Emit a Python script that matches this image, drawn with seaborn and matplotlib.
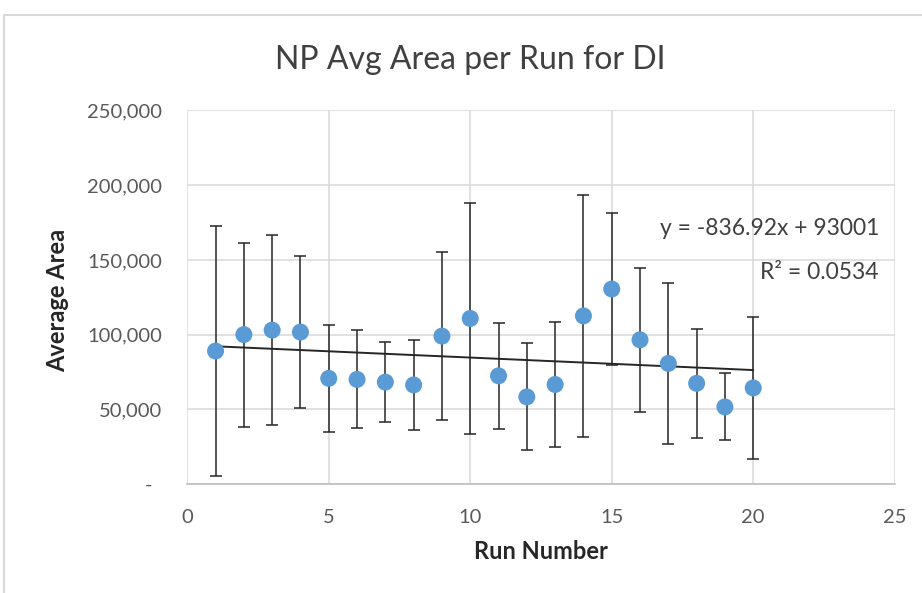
import numpy as np
import matplotlib
matplotlib.use("Agg")
import matplotlib.pyplot as plt
import matplotlib.patches as mpatches
from matplotlib.ticker import FuncFormatter
import seaborn as sns

# Data
runs = np.arange(1, 21)
avg_area = [89000, 100000, 103000, 101700, 70700, 70000, 68200, 66300, 99000, 110800,
            72400, 58300, 66600, 112500, 130500, 96500, 80700, 67400, 51600, 64300]
std_area = [83500, 61600, 63600, 51100, 35800, 32800, 27000, 30300, 56100, 77000,
            35600, 35800, 41800, 81000, 51000, 48200, 54100, 36300, 22400, 47800]

# Excel linear trendline as printed on the chart
slope, intercept, r2 = -836.92, 93001, 0.0534
trend = slope * runs + intercept

sns.set_style("white")
plt.rcParams['font.family'] = ['Lato', 'DejaVu Sans']

fig = plt.figure(figsize=(9.22, 5.93), dpi=100)
ax = fig.add_axes([0.2031, 0.1838, 0.7673, 0.6299])

# chart frame (cut off at the right / bottom like the screenshot)
fig.patches.append(mpatches.Rectangle((0.0043, -0.1), 1.5, 1.0747, transform=fig.transFigure,
                                      fill=False, edgecolor="#D9D9D9", lw=1.5))

ax.errorbar(runs, avg_area, yerr=std_area, fmt="none", ecolor="#262626",
            elinewidth=1.1, capsize=4.3, capthick=1.1, zorder=2)
sns.lineplot(x=runs, y=trend, color="#262626", lw=1.4, ax=ax, zorder=3)
sns.scatterplot(x=runs, y=avg_area, color="#5B9BD5", s=150, edgecolor="none", ax=ax, zorder=4)

ax.set_xlim(0, 25)
ax.set_ylim(0, 250000)
ax.set_xticks(range(0, 26, 5))
ax.set_yticks(range(0, 250001, 50000))
ax.yaxis.set_major_formatter(FuncFormatter(lambda v, p: "-  " if v == 0 else f"{v:,.0f}"))
ax.grid(True, color="#D9D9D9", lw=1.1)
ax.set_axisbelow(True)
for s in ["top", "right", "left"]:
    ax.spines[s].set_visible(False)
ax.spines["bottom"].set_color("#BFBFBF")
ax.spines["bottom"].set_linewidth(1.2)
ax.tick_params(axis="both", length=0, labelsize=14.5, labelcolor="#595959", pad=18)

ax.set_xlabel("Run Number", fontsize=17, fontweight="bold", color="#262626")
ax.set_ylabel("Average Area", fontsize=17, fontweight="bold", color="#262626")
ax.xaxis.set_label_coords(0.5, -0.18)
ax.yaxis.set_label_coords(-0.183, 0.492)
ax.xaxis.label.set_va("center")
ax.yaxis.label.set_va("center")

ax.text(0.979, 0.685, "y = -836.92x + 93001", transform=ax.transAxes, ha="right", va="center",
        fontsize=16.5, color="#404040")
ax.text(0.977, 0.567, f"R² = {r2}", transform=ax.transAxes, ha="right", va="center",
        fontsize=16.5, color="#404040")

fig.text(470 / 922, 1 - 60 / 593, "NP Avg Area per Run for DI", ha="center", va="center",
         fontsize=23, color="#404040")

fig.savefig("out.png", dpi=100)
